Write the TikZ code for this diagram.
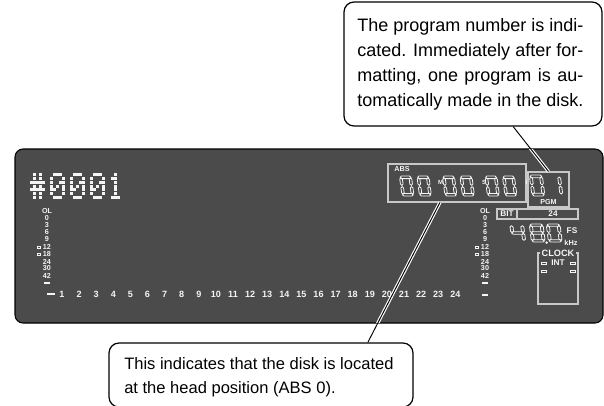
\documentclass[tikz,border=0pt]{standalone}
\usepackage{fontspec}
\setmainfont{Liberation Sans}
\usetikzlibrary{calc,fit}
\definecolor{panelgray}{HTML}{4B4B4B}
\definecolor{lcd}{HTML}{F4F4F4}
\definecolor{framegray}{HTML}{C8C8C8}
\newlength\notew
\newcommand\segA{\draw[segline] (0.6,18.7)--(1.9,20)--(10.1,20)--(11.4,18.7)--(10.1,17.4)--(1.9,17.4)--cycle;}
\newcommand\segG{\draw[segline] (0.6,10)--(1.9,11.3)--(10.1,11.3)--(11.4,10)--(10.1,8.7)--(1.9,8.7)--cycle;}
\newcommand\segD{\draw[segline] (0.6,1.3)--(1.9,2.6)--(10.1,2.6)--(11.4,1.3)--(10.1,0)--(1.9,0)--cycle;}
\newcommand\segF{\draw[segline] (1.3,10.6)--(2.6,11.9)--(2.6,16.8)--(1.3,18.1)--(0,16.8)--(0,11.9)--cycle;}
\newcommand\segB{\draw[segline] (10.7,10.6)--(12,11.9)--(12,16.8)--(10.7,18.1)--(9.4,16.8)--(9.4,11.9)--cycle;}
\newcommand\segE{\draw[segline] (1.3,1.9)--(2.6,3.2)--(2.6,8.1)--(1.3,9.4)--(0,8.1)--(0,3.2)--cycle;}
\newcommand\segC{\draw[segline] (10.7,1.9)--(12,3.2)--(12,8.1)--(10.7,9.4)--(9.4,8.1)--(9.4,3.2)--cycle;}
\newcommand\sevdigit[5]{\begin{scope}[shift={(#1,#2)},yscale=-1,xslant=0.13,xscale=#3,yscale=#4]\foreach \s in {#5}{\csname seg\s\endcsname}\end{scope}}
\newcommand\dotchar[3]{\foreach \c/\r in {#3}{\fill[lcd] ({#1+3*\c},{#2+3.86*\r}) rectangle ++(2.8,3.0);}}
\begin{document}
\begin{tikzpicture}[x=0.75pt,y=-0.75pt,
  segline/.style={draw=lcd,line width=0.6pt,line join=miter},
  lvl/.style={text=lcd,font=\bfseries\fontsize{5.4}{5.4}\selectfont,inner sep=0pt},
  num/.style={text=lcd,font=\bfseries\fontsize{6.8}{6.8}\selectfont,inner sep=0pt},
  tag/.style={text=lcd,font=\bfseries\fontsize{5.4}{5.4}\selectfont,inner sep=0pt},
  unit/.style={text=lcd,font=\bfseries\fontsize{4.5}{4.5}\selectfont,inner sep=0pt},
  lbl/.style={text=lcd,font=\bfseries\fontsize{6.2}{6.2}\selectfont,inner sep=0pt},
  lcdframe/.style={draw=framegray,line width=0.8pt},
  notebox/.style={draw=black,line width=0.9pt,rounded corners=7.5pt,fill=white,inner sep=0pt},
  notetext/.style={inner sep=0pt,anchor=base west},
  halo/.style={draw=white,line width=2.4pt},
  pointer/.style={draw=black,line width=0.7pt}]
\useasboundingbox (0,0) rectangle (604,405);
\clip (0,0) rectangle (604,405);
% display panel
\draw[fill=panelgray,draw=black,line width=0.8pt,rounded corners=6pt] (15,149) rectangle (603,323);
% callouts
\node[notebox,minimum width=193.5pt,minimum height=93pt] (topnote) at (473,64) {};
\node[notebox,minimum width=228pt,minimum height=48pt] (botnote) at (261,375) {};
\node[notetext,font=\fontsize{13.5}{18.75}\selectfont] (toptxt) at (357,31.5)
  {\settowidth{\notew}{The program number is indi-}\parbox[t]{\notew}{\setlength{\parfillskip}{0pt}\hyphenpenalty=10000 The program number is indi-\linebreak cated. Immediately after for-\linebreak matting, one program is au-\linebreak tomatically made in the disk.}};
\node[notetext,font=\fontsize{12.4}{18}\selectfont] (bottxt) at (124,369)
  {\parbox[t]{260pt}{\raggedright This indicates that the disk is located\\at the head position (ABS 0).}};
% dot matrix #0001
\dotchar{30}{173}{1/0,3/0,1/1,3/1,0/2,1/2,2/2,3/2,4/2,1/3,3/3,0/4,1/4,2/4,3/4,4/4,1/5,3/5,1/6,3/6}
\foreach \xx in {50,70,90}{\dotchar{\xx}{173}{1/0,2/0,3/0,0/1,4/1,0/2,3/2,4/2,0/3,2/3,4/3,0/4,1/4,4/4,0/5,4/5,1/6,2/6,3/6}}
\dotchar{108}{173}{2/0,1/1,2/1,2/2,2/3,2/4,2/5,1/6,2/6,3/6}
% level meter scales
\foreach \t/\yy [count=\k] in {OL/211,0/218,3/225.5,6/232.5,9/239.5,12/247,18/254,24/261.5,30/268.5,42/276}{
  \node[lvl] (lvL\k) at (47,\yy) {\t};
  \node[lvl] (lvR\k) at (485,\yy) {\t};}
\foreach \xx in {47,485}{\foreach \yy in {247,254}{\draw[draw=lcd,line width=0.4pt] (\xx-9.5,\yy-1.2) rectangle ++(3,2.4);}
  \fill[lcd] (\xx-3,282.3) rectangle ++(6,1.4);}
\fill[lcd] (47,293.3) rectangle (55,294.8);
\fill[lcd] (482,294.3) rectangle (488,295.8);
\foreach \i in {1,...,24}{\node[num] (ch\i) at ({62+(\i-1)*17.1},294) {\i};}
% ABS time
\path (388,164) coordinate (absNW) (526,202) coordinate (absSE);
\node[fit=(absNW)(absSE),inner sep=0pt,lcdframe] (absbox) {};
\node[tag] (abslbl) at (402,169.5) {ABS};
\foreach \xx in {402,419.5,445,462.5,487.5,505}{\sevdigit{\xx}{196}{1}{1}{A,B,C,D,E,F}}
\node[unit] (uM) at (440.5,182) {M};
\node[unit] (uS) at (484,182) {S};
\node[unit] (uF) at (527.5,182) {F};
% PGM
\path (528,172) coordinate (pgmNW) (569,207) coordinate (pgmSE);
\node[fit=(pgmNW)(pgmSE),inner sep=0pt,lcdframe,fill=panelgray] (pgmbox) {};
\sevdigit{532}{196}{1.08}{1.05}{A,B,C,D,E,F}
\sevdigit{550}{196}{1.08}{1.05}{B,C}
\node[tag] (pgmlbl) at (548.5,202) {PGM};
% BIT
\draw[lcdframe] (497,209) rectangle (578,219);
\draw[lcdframe] (517,209) -- (517,219);
\node[lbl] (bitlbl) at (507,214) {BIT};
\node[lbl] (bitval) at (553,214) {24};
% FS 48.0
\sevdigit{512}{242}{1.15}{0.9}{B,C,F,G}
\sevdigit{531.5}{242}{1.15}{0.9}{A,B,C,D,E,F,G}
\sevdigit{548.5}{242}{1.15}{0.9}{A,B,C,D,E,F}
\fill[lcd] (546.6,242.6) circle (1.3);
\node[lbl] (fslbl) at (572,231) {FS};
\node[text=lcd,font=\bfseries\fontsize{5.5}{5.5}\selectfont,inner sep=0pt] (khz) at (571,243) {kHz};
% CLOCK
\draw[lcdframe] (538,253) rectangle (578,304);
\node[text=lcd,font=\bfseries\fontsize{6.9}{6.9}\selectfont,inner xsep=1pt,inner ysep=0pt,fill=panelgray] (clock) at (558,253) {CLOCK};
\node[lbl] (intlbl) at (558,263) {INT};
\foreach \xx in {541.7,570}{\foreach \yy in {261.8,270.2}{\draw[draw=lcd,line width=0.4pt] (\xx,\yy) rectangle ++(5,2.5);}}
% pointers
\coordinate (topfoot) at ($(topnote.south west)!0.655!(topnote.south east)$);
\coordinate (botfoot) at ($(botnote.north west)!0.85!(botnote.north east)$);
\coordinate (absfoot) at ($(absbox.south west)!0.377!(absbox.south east)$);
\begin{scope}
\clip[rounded corners=6pt] (15,149) rectangle (603,323);
\draw[halo] (topfoot) -- (pgmbox.north);
\draw[halo] (botfoot) -- (absfoot);
\end{scope}
\draw[pointer] (topfoot) -- (pgmbox.north);
\draw[pointer] (botfoot) -- (absfoot);
\end{tikzpicture}
\end{document}
